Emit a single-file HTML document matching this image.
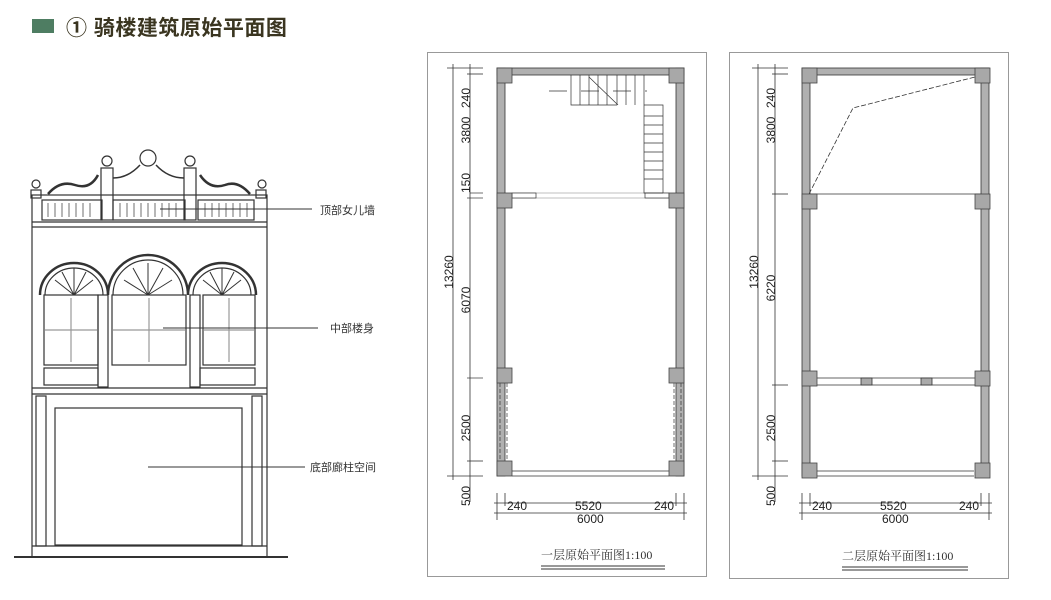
<!DOCTYPE html>
<html><head><meta charset="utf-8"><style>
body{margin:0;width:1051px;height:600px;background:#fff;overflow:hidden;position:relative;font-family:"Liberation Sans","Noto Sans CJK SC",sans-serif}
</style></head><body>
<div style="position:absolute;left:32px;top:19px;width:22px;height:14px;background:#4e7d62"></div>
<div style="position:absolute;left:66px;top:12px;font-size:21px;font-weight:bold;color:#3a3520;letter-spacing:0.5px;font-family:'Liberation Sans','Noto Sans CJK SC',sans-serif">① 骑楼建筑原始平面图</div>
<svg width="1051" height="600" style="position:absolute;left:0;top:0" font-family="Liberation Sans, Noto Sans CJK SC, sans-serif">
<defs>
<g id="plan" stroke="#333" stroke-width="0.8">
 <rect x="0" y="0" width="187" height="7" fill="#b0b0b0"/>
 <rect x="0" y="0" width="8" height="408" fill="#b0b0b0"/>
 <rect x="179" y="0" width="8" height="408" fill="#b0b0b0"/>
 <line x1="15" y1="403" x2="172" y2="403"/>
 <line x1="15" y1="408" x2="172" y2="408"/>
 <g fill="none">
  <line x1="-44" y1="-4" x2="-44" y2="412"/>
  <line x1="-27" y1="-4" x2="-27" y2="434"/>
  <line x1="-50" y1="0" x2="-14" y2="0"/>
  <line x1="-30" y1="6" x2="-14" y2="6"/>
  <line x1="-50" y1="408" x2="-14" y2="408"/>
  <line x1="-30" y1="393" x2="-14" y2="393"/>
  <line x1="-3" y1="435" x2="190" y2="435"/>
  <line x1="-3" y1="445" x2="190" y2="445"/>
  <line x1="0" y1="425" x2="0" y2="452"/>
  <line x1="187" y1="425" x2="187" y2="452"/>
  <line x1="8" y1="425" x2="8" y2="438"/>
  <line x1="179" y1="425" x2="179" y2="438"/>
 </g>
 <g fill="#222" stroke="none" font-size="12">
  <text x="10" y="442">240</text>
  <text x="78" y="442">5520</text>
  <text x="157" y="442">240</text>
  <text x="80" y="455">6000</text>
  <text transform="translate(-27,30) rotate(-90)" text-anchor="middle">240</text>
  <text transform="translate(-27,62) rotate(-90)" text-anchor="middle">3800</text>
  <text transform="translate(-44,204) rotate(-90)" text-anchor="middle">13260</text>
  <text transform="translate(-27,360) rotate(-90)" text-anchor="middle">2500</text>
  <text transform="translate(-27,428) rotate(-90)" text-anchor="middle">500</text>
 </g>
</g>
<g id="col"><rect width="15" height="15" fill="#a8a8a8" stroke="#444" stroke-width="0.8"/></g>
</defs>

<g stroke="#333" stroke-width="1.2" fill="none">
 <line x1="14" y1="557" x2="288" y2="557" stroke-width="2"/>
 <rect x="32" y="195" width="235" height="362"/>
 <line x1="32" y1="222" x2="267" y2="222"/><line x1="32" y1="227" x2="267" y2="227"/>
 <rect x="42" y="200" width="60" height="20"/><rect x="113" y="200" width="72" height="20"/><rect x="198" y="200" width="56" height="20"/>
 <g stroke-width="0.7">
  <path d="M48 203v14M55 203v14M62 203v14M69 203v14M76 203v14M83 203v14M90 203v14M120 203v14M127 203v14M134 203v14M141 203v14M148 203v14M155 203v14M162 203v14M169 203v14M176 203v14M205 203v14M212 203v14M219 203v14M226 203v14M233 203v14M240 203v14M247 203v14"/>
 </g>
 <rect x="101" y="168" width="12" height="52"/><rect x="184" y="168" width="12" height="52"/>
 <rect x="31" y="190" width="10" height="8"/><rect x="256" y="190" width="10" height="8"/>
 <circle cx="36" cy="184" r="4"/><circle cx="262" cy="184" r="4"/>
 <circle cx="107" cy="161" r="5"/><circle cx="190" cy="161" r="5"/>
 <circle cx="148" cy="158" r="8"/>
 <path d="M113 178 Q128 178 140 165 M156 165 Q168 178 184 178" stroke-width="1.5"/>
 <path d="M48 194 Q60 180 75 185 Q90 190 98 175" stroke-width="2.5"/>
 <path d="M200 175 Q210 190 225 185 Q238 180 250 194" stroke-width="2.5"/>
 <path d="M40 295 A34 32 0 0 1 108 295 A40 40 0 0 1 188 295 A34 32 0 0 1 256 295" stroke-width="2.5"/>
 <path d="M45 295 A29 27 0 0 1 103 295 M113 295 A35 35 0 0 1 183 295 M193 295 A29 27 0 0 1 251 295"/>
 <g stroke-width="1">
  <path d="M74 295 L55 280 M74 295 L62 272 M74 295 L74 268 M74 295 L86 272 M74 295 L93 280"/>
  <path d="M148 295 L124 280 M148 295 L133 268 M148 295 L148 263 M148 295 L163 268 M148 295 L172 280"/>
  <path d="M222 295 L203 280 M222 295 L210 272 M222 295 L222 268 M222 295 L234 272 M222 295 L241 280"/>
 </g>
 <rect x="44" y="295" width="54" height="70"/><rect x="112" y="295" width="74" height="70"/><rect x="203" y="295" width="52" height="70"/>
 <path d="M71 298v64M45 330h52M149 298v64M113 330h72M229 298v64M204 330h50" stroke="#999"/>
 <rect x="98" y="295" width="10" height="92"/><rect x="190" y="295" width="10" height="92"/>
 <rect x="44" y="368" width="54" height="17"/><rect x="200" y="368" width="55" height="17"/>
 <line x1="32" y1="388" x2="267" y2="388"/><line x1="32" y1="394" x2="267" y2="394"/>
 <rect x="36" y="396" width="10" height="150"/><rect x="252" y="396" width="10" height="150"/>
 <rect x="55" y="408" width="187" height="137"/>
 <line x1="32" y1="546" x2="267" y2="546"/>
 <line x1="160" y1="209" x2="312" y2="209" stroke-width="1"/>
 <line x1="163" y1="328" x2="318" y2="328" stroke-width="1"/>
 <line x1="148" y1="467" x2="305" y2="467" stroke-width="1"/>
</g>
<g font-size="11" fill="#333">
 <text x="320" y="214">顶部女儿墙</text>
 <text x="330" y="332">中部楼身</text>
 <text x="310" y="471">底部廊柱空间</text>
</g>

<rect x="427.5" y="52.5" width="279" height="524" fill="none" stroke="#999"/>
<rect x="729.5" y="52.5" width="279" height="526" fill="none" stroke="#999"/>

<g transform="translate(497,68)">
 <use href="#plan"/>
 <g stroke="#333" stroke-width="0.7" fill="none">
  <line x1="15" y1="125" x2="172" y2="125" stroke="#aaa"/>
  <line x1="15" y1="130" x2="172" y2="130" stroke="#aaa"/>
  <rect x="15" y="125" width="24" height="5" fill="#fff"/>
  <rect x="148" y="125" width="24" height="5" fill="#fff"/>
  <line x1="3" y1="315" x2="3" y2="393" stroke-dasharray="4,2"/>
  <line x1="10" y1="315" x2="10" y2="393" stroke-dasharray="4,2"/>
  <line x1="177" y1="315" x2="177" y2="393" stroke-dasharray="4,2"/>
  <line x1="184" y1="315" x2="184" y2="393" stroke-dasharray="4,2"/>
  <path d="M74 7V37H120M83 7V37M92 7V37M101 7V37M110 7V37M120 7V37M129 7V37M138 7V37M147 7V37"/>
  <path d="M147 37H166V125M147 37V125H166M147 48H166M147 57H166M147 66H166M147 75H166M147 84H166M147 93H166M147 102H166M147 111H166"/>
  <line x1="92" y1="9" x2="121" y2="37"/>
  <line x1="52" y1="23" x2="150" y2="23" stroke-dasharray="18,14"/>
  <line x1="-27" y1="125" x2="-14" y2="125"/><line x1="-30" y1="130" x2="-14" y2="130"/>
  <line x1="-30" y1="310" x2="-14" y2="310"/>
 </g>
 <g font-size="12" fill="#222">
  <text transform="translate(-27,125) rotate(-90)" text-anchor="start">150</text>
  <text transform="translate(-27,232) rotate(-90)" text-anchor="middle">6070</text>
 </g>
 <use href="#col" x="0" y="0"/><use href="#col" x="172" y="0"/>
 <use href="#col" x="0" y="125"/><use href="#col" x="172" y="125"/>
 <use href="#col" x="0" y="300"/><use href="#col" x="172" y="300"/>
 <use href="#col" x="0" y="393"/><use href="#col" x="172" y="393"/>
 <text x="44" y="491" font-size="12" fill="#333" font-family="Liberation Serif, Noto Serif CJK SC, serif">一层原始平面图1:100</text>
 <line x1="44" y1="498" x2="168" y2="498" stroke="#333"/><line x1="44" y1="501" x2="168" y2="501" stroke="#333"/>
</g>

<g transform="translate(802,68)">
 <use href="#plan"/>
 <g stroke="#333" stroke-width="0.8" fill="none">
  <line x1="8" y1="126" x2="179" y2="126"/>
  <line x1="8" y1="310" x2="179" y2="310"/><line x1="8" y1="317" x2="179" y2="317"/>
  <rect x="59" y="310" width="11" height="7" fill="#aaa"/>
  <rect x="119" y="310" width="11" height="7" fill="#aaa"/>
  <path d="M7 126 L51 40 L173 9" stroke-dasharray="5,2"/>
  <line x1="-30" y1="126" x2="-14" y2="126"/>
  <line x1="-30" y1="317" x2="-14" y2="317"/>
 </g>
 <g font-size="12" fill="#222">
  <text transform="translate(-27,220) rotate(-90)" text-anchor="middle">6220</text>
 </g>
 <use href="#col" x="0" y="0"/><use href="#col" x="173" y="0"/>
 <use href="#col" x="0" y="126"/><use href="#col" x="173" y="126"/>
 <use href="#col" x="0" y="303"/><use href="#col" x="173" y="303"/>
 <use href="#col" x="0" y="395"/><use href="#col" x="173" y="395"/>
 <text x="40" y="492" font-size="12" fill="#333" font-family="Liberation Serif, Noto Serif CJK SC, serif">二层原始平面图1:100</text>
 <line x1="40" y1="499" x2="166" y2="499" stroke="#333"/><line x1="40" y1="502" x2="166" y2="502" stroke="#333"/>
</g>
</svg>
</body></html>
